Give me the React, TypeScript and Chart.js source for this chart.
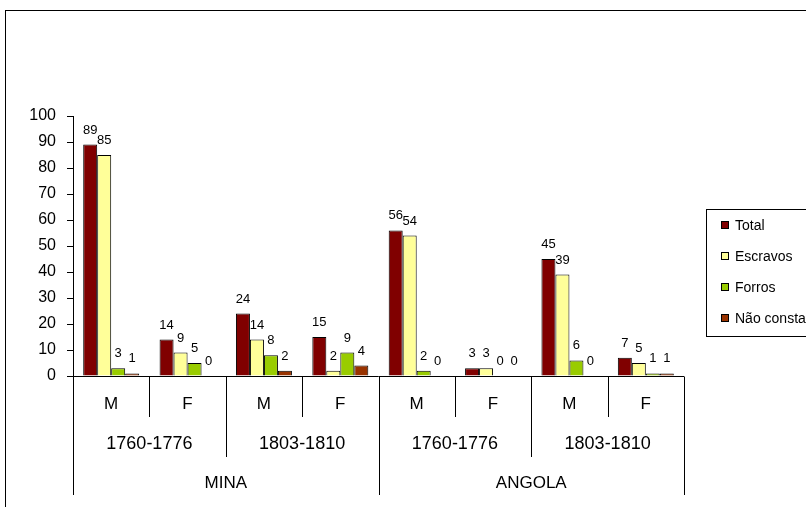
import React, { useEffect, useRef } from "react";
import { Chart, registerables } from "chart.js";

Chart.register(...registerables);

const sexLabels = ["M", "F", "M", "F", "M", "F", "M", "F"];
const periodLabels = ["1760-1776", "1803-1810", "1760-1776", "1803-1810"];
const regionLabels = ["MINA", "ANGOLA"];

const seriesNames = ["Total", "Escravos", "Forros", "Não consta"];
const seriesColors = ["#800000", "#FFFF99", "#99CC00", "#993300"];

const totalValues = [89, 14, 24, 15, 56, 3, 45, 7];
const escravosValues = [85, 9, 14, 2, 54, 3, 39, 5];
const forrosValues = [3, 5, 8, 9, 2, 0, 6, 1];
const naoConstaValues = [1, 0, 2, 4, 0, 0, 0, 1];

const yTicks = [0, 10, 20, 30, 40, 50, 60, 70, 80, 90, 100];

const FONT = '"Liberation Sans", Arial, sans-serif';

const overlayPlugin = {
  id: "overlay",
  afterDraw(chart: any) {
    const ctx = chart.ctx as CanvasRenderingContext2D;
    const area = chart.chartArea;
    const x = chart.scales.x;
    ctx.save();
    // outer border
    ctx.strokeStyle = "#000";
    ctx.lineWidth = 1;
    ctx.strokeRect(5.5, 10.5, 900, 600);

    // x axis line
    const y0 = Math.round(area.bottom) + 0.5;
    ctx.beginPath();
    ctx.moveTo(area.left, y0);
    ctx.lineTo(area.right, y0);
    ctx.stroke();

    const n = sexLabels.length;
    const step = (area.right - area.left) / n;
    for (let i = 0; i <= n; i++) {
      const bx = Math.round(area.left + i * step) + 0.5;
      let bottom = 417;
      if (i % 4 === 0) bottom = 495;
      else if (i % 2 === 0) bottom = 457;
      ctx.beginPath();
      ctx.moveTo(bx, y0);
      ctx.lineTo(bx, bottom);
      ctx.stroke();
    }

    ctx.fillStyle = "#000";
    ctx.textAlign = "center";
    ctx.textBaseline = "middle";
    ctx.font = `17px ${FONT}`;
    sexLabels.forEach((l, i) => {
      ctx.fillText(l, x.getPixelForValue(i), 404);
    });
    ctx.font = `18px ${FONT}`;
    periodLabels.forEach((l, i) => {
      const cx = area.left + (i * 2 + 1) * step;
      ctx.fillText(l, cx, 444);
    });
    ctx.font = `17px ${FONT}`;
    regionLabels.forEach((l, i) => {
      const cx = area.left + (i * 4 + 2) * step;
      ctx.fillText(l, cx, 483);
    });

    // data labels
    ctx.font = `13px ${FONT}`;
    ctx.textBaseline = "alphabetic";
    chart.data.datasets.forEach((ds: any, di: number) => {
      const meta = chart.getDatasetMeta(di);
      meta.data.forEach((bar: any, i: number) => {
        ctx.fillText(String(ds.data[i]), bar.x, bar.y - 11);
      });
    });

    // legend
    ctx.strokeStyle = "#000";
    ctx.strokeRect(706.5, 209.5, 200, 127);
    ctx.font = `14px ${FONT}`;
    ctx.textAlign = "left";
    ctx.textBaseline = "middle";
    const ys = [225, 256, 287, 318];
    seriesNames.forEach((name, i) => {
      ctx.fillStyle = seriesColors[i];
      ctx.fillRect(721, ys[i] - 4, 8, 8);
      ctx.strokeRect(721.5, ys[i] - 3.5, 7, 7);
      ctx.fillStyle = "#000";
      ctx.fillText(name, 735, ys[i] + 1);
    });
    ctx.restore();
  },
};

export default function App() {
  const ref = useRef<HTMLCanvasElement | null>(null);
  useEffect(() => {
    if (!ref.current) return;
    const values = [totalValues, escravosValues, forrosValues, naoConstaValues];
    const chart = new Chart(ref.current, {
      type: "bar",
      data: {
        labels: sexLabels,
        datasets: seriesNames.map((name, i) => ({
          label: name,
          data: values[i],
          backgroundColor: seriesColors[i],
          borderColor: "#000",
          borderWidth: 1,
          categoryPercentage: 0.733,
          barPercentage: 1,
        })),
      },
      options: {
        responsive: false,
        animation: false,
        devicePixelRatio: 1,
        layout: { padding: { left: 0, right: 122, top: 116, bottom: 131 } },
        plugins: {
          legend: { display: false },
          tooltip: { enabled: false },
          title: { display: false },
        },
        scales: {
          x: { display: false },
          y: {
            min: 0,
            max: 100,
            afterFit: (s: any) => {
              s.width = 73;
            },
            afterBuildTicks: (s: any) => {
              s.ticks = yTicks.map((v) => ({ value: v }));
            },
            ticks: {
              color: "#000",
              font: { family: FONT, size: 16 },
              padding: 11,
            },
            grid: {
              display: true,
              drawOnChartArea: false,
              drawTicks: true,
              tickLength: 6,
              color: "#000",
            },
            border: { display: true, color: "#000", width: 1 },
          },
        },
      },
      plugins: [overlayPlugin],
    });
    return () => chart.destroy();
  }, []);
  return (
    <div style={{ position: "absolute", left: 0, top: 0, width: 806, height: 507, background: "#fff" }}>
      <canvas ref={ref} width={806} height={507} style={{ width: 806, height: 507 }} />
    </div>
  );
}
